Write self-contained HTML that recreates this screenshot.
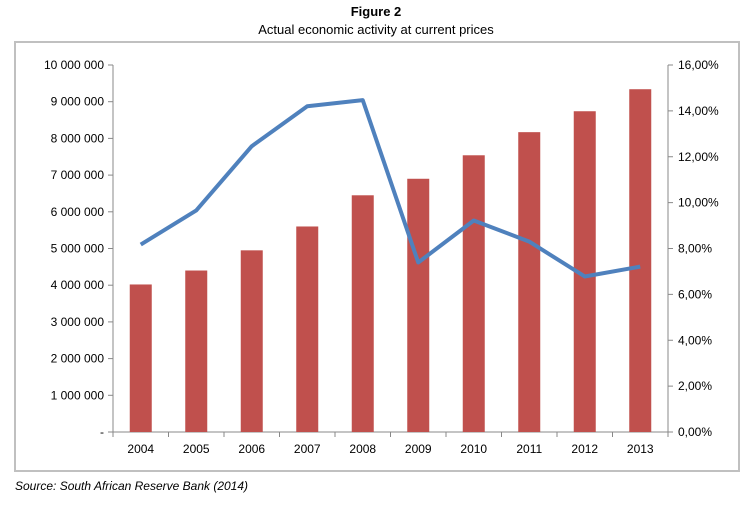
<!DOCTYPE html>
<html><head><meta charset="utf-8"><style>
body{margin:0;background:#fff;font-family:"Liberation Sans",Arial,sans-serif;}
svg text{font-family:"Liberation Sans",Arial,sans-serif;}
</style></head><body>
<svg width="752" height="500">
<text x="376" y="16" text-anchor="middle" font-weight="bold" font-size="13">Figure 2</text>
<text x="376" y="34" text-anchor="middle" font-size="13">Actual economic activity at current prices</text>
<rect x="15" y="42" width="724" height="429" fill="none" stroke="#c0c0c0" stroke-width="2"/>
<g id="g"></g>
<text x="15" y="490" font-style="italic" font-size="12">Source: South African Reserve Bank (2014)</text>
</svg>
<script>
const years=["2004","2005","2006","2007","2008","2009","2010","2011","2012","2013"];
const activity=[4020000,4400000,4950000,5600000,6450000,6900000,7540000,8170000,8740000,9340000];
const growth=[8.17,9.66,12.46,14.2,14.47,7.39,9.22,8.3,6.78,7.21];
const leftTicks=["-","1 000 000","2 000 000","3 000 000","4 000 000","5 000 000","6 000 000","7 000 000","8 000 000","9 000 000","10 000 000"];
const rightTicks=["0,00%","2,00%","4,00%","6,00%","8,00%","10,00%","12,00%","14,00%","16,00%"];
const L=113,R=668,T=65,B=432,NS="http://www.w3.org/2000/svg";
const g=document.getElementById('g');
const bw=(R-L)/years.length;
const xc=i=>L+bw*(i+0.5);
const yl=v=>B-(v/10000000)*(B-T);
const yr=v=>B-(v/16)*(B-T);
function el(t,a){const e=document.createElementNS(NS,t);for(const k in a)e.setAttribute(k,a[k]);g.appendChild(e);return e;}
let e;
e=el('line',{x1:L,y1:T,x2:L,y2:B,stroke:'#888'});


e=el('line',{x1:R,y1:T,x2:R,y2:B,stroke:'#888'});


e=el('line',{x1:L,y1:B,x2:R,y2:B,stroke:'#888'});


leftTicks.forEach((t,i)=>{const y=yl(i*1000000);
el('line',{x1:L-5,y1:y,x2:L,y2:y,stroke:'#888'});
e=el('text',{x:L-9,y:y+4,'text-anchor':'end','font-size':12});e.textContent=t;

});
rightTicks.forEach((t,i)=>{const y=yr(i*2);
el('line',{x1:R,y1:y,x2:R+5,y2:y,stroke:'#888'});
e=el('text',{x:R+10,y:y+4,'font-size':12});e.textContent=t;

});
for(let i=0;i<=years.length;i++){const x=L+bw*i;el('line',{x1:x,y1:B,x2:x,y2:B+5,stroke:'#888'});}
years.forEach((yv,i)=>{
e=el('rect',{x:xc(i)-11,y:yl(activity[i]),width:22,height:B-yl(activity[i]),fill:'#c0504d'});


e=el('text',{x:xc(i),y:B+21,'text-anchor':'middle','font-size':12});e.textContent=yv;

});
e=el('polyline',{points:growth.map((v,i)=>xc(i)+','+yr(v)).join(' '),fill:'none',stroke:'#4f81bd','stroke-width':4,'stroke-linejoin':'round'});


</script>
</body></html>
